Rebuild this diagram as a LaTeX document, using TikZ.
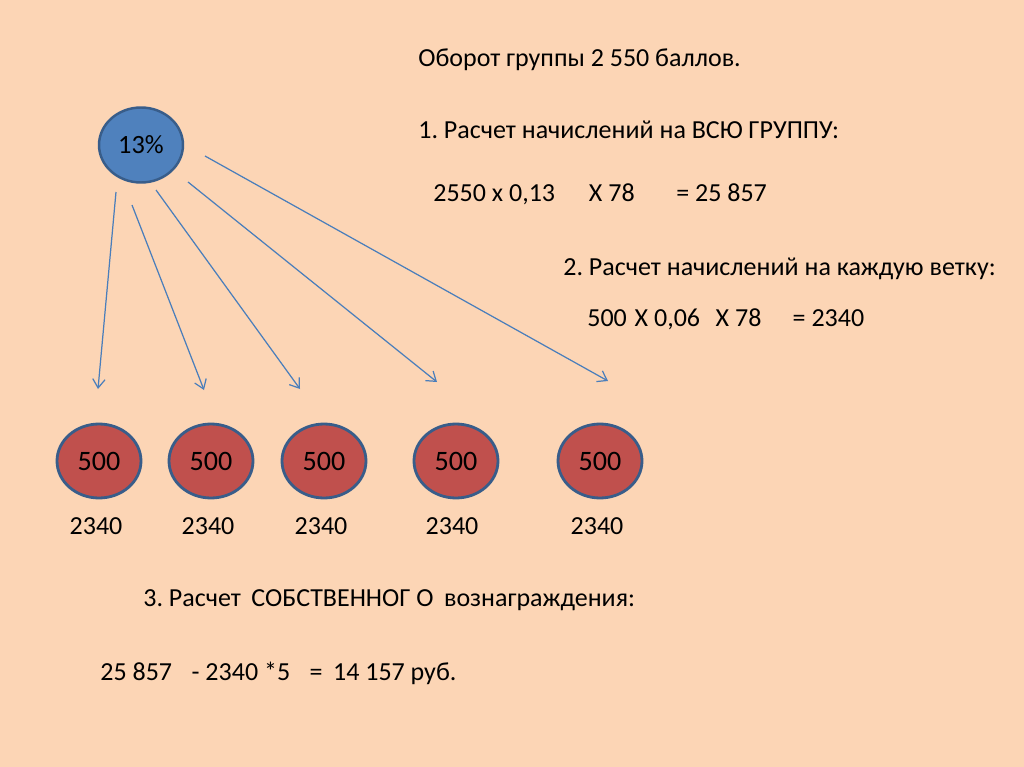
\documentclass[tikz,border=0pt]{standalone}
\usepackage{fontspec}
\setmainfont{Carlito}
\usetikzlibrary{shapes.geometric,arrows.meta}
\definecolor{peach}{HTML}{FCD5B5}
\definecolor{topblue}{HTML}{4F81BD}
\definecolor{rimblue}{HTML}{385D8A}
\definecolor{branchred}{HTML}{C0504D}
\definecolor{arrowblue}{HTML}{4A7EBB}
\tikzset{
  head/.style={ellipse,draw=rimblue,line width=1.4pt,fill=topblue,
    minimum width=1.68cm,minimum height=1.5cm,font=\fontsize{15}{17}\selectfont},
  branch/.style={ellipse,draw=rimblue,line width=1.6pt,fill=branchred,
    minimum width=1.68cm,minimum height=1.48cm,font=\fontsize{16}{18}\selectfont},
  sum/.style={anchor=base,font=\fontsize{14.8}{17}\selectfont},
  txt/.style={anchor=base west,inner sep=0pt,font=\fontsize{14.8}{17}\selectfont},
  link/.style={arrowblue,line width=0.7pt,-{Straight Barb[length=5pt,width=7pt]}}
}
\begin{document}
\begin{tikzpicture}[x=0.02cm,y=-0.02cm]
  \fill[peach] (0,0) rectangle (1024,767);
  \useasboundingbox (0,0) rectangle (1024,767);
  % top node and branches
  \node[head] (pct) at (141,145) {13\%};
  \node[branch] (b1) at (99,461) {500};
  \node[branch] (b2) at (211,461) {500};
  \node[branch] (b3) at (324,461) {500};
  \node[branch] (b4) at (456,461) {500};
  \node[branch] (b5) at (600,461) {500};
  \node[sum] (s1) at (96,534) {2340};
  \node[sum] (s2) at (208,534) {2340};
  \node[sum] (s3) at (321,534) {2340};
  \node[sum] (s4) at (452,534) {2340};
  \node[sum] (s5) at (597,534) {2340};
  % arrow ends
  \coordinate (a1) at (116,192);
  \coordinate (a2) at (132,205);
  \coordinate (a3) at (156,190);
  \coordinate (a4) at (188,182);
  \coordinate (a5) at (205,156);
  \coordinate (t1) at (98,389);
  \coordinate (t2) at (204,390);
  \coordinate (t3) at (300,389);
  \coordinate (t4) at (437,382);
  \coordinate (t5) at (608,381);
  \draw[link] (a1) -- (t1);
  \draw[link] (a2) -- (t2);
  \draw[link] (a3) -- (t3);
  \draw[link] (a4) -- (t4);
  \draw[link] (a5) -- (t5);
  % texts
  \node[txt] (l0) at (418,66.5) {Оборот группы 2 550 баллов.};
  \node[txt] (l1) at (418,138) {1.\ Расчет начислений на ВСЮ ГРУППУ:};
  \node[txt] (l2) at (433,201.5) {2550 x 0,13\hspace{1.3em}X 78\hspace{1.6em}= 25 857};
  \node[txt] (l3) at (563,275.5) {2.\ Расчет начислений на каждую ветку:};
  \node[txt] (l4) at (587,326) {500\hspace{0.3em}X 0,06\hspace{0.6em}X 78\hspace{1.2em}= 2340};
  \node[txt] (l5) at (143,606.5) {3.\ Расчет\hspace{0.4em}СОБСТВЕННОГ О\hspace{0.4em}вознаграждения:};
  \node[txt] (l6) at (100,680) {25 857\hspace{0.75em}- 2340 *5\hspace{0.75em}=\hspace{0.4em}14 157 руб.};
\end{tikzpicture}
\end{document}
